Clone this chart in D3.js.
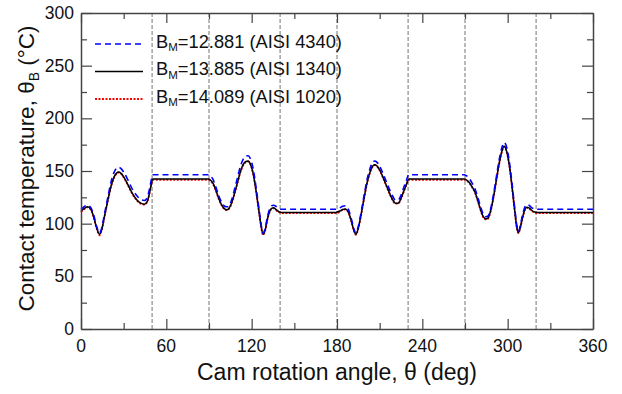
<!DOCTYPE html>
<html>
<head>
<meta charset="utf-8">
<script src="https://cdn.jsdelivr.net/npm/d3@7"></script>
<style>
  body { margin: 0; background: #fff; }
  svg { font-family: "Liberation Sans", Arial, sans-serif; }
</style>
</head>
<body>
<div id="chart"></div>
<script>
// cam rotation angle (deg) shared by all three series
var angle = [
  0, 2, 4.5, 7, 9, 11, 13, 14.5, 16.5, 19, 21, 23, 25, 26.5, 28, 30, 33, 36, 39, 42, 44.5, 46.5, 48, 49.5, 50.5,
  89.5,
  91, 93, 95, 97, 99, 101, 102.5, 104, 106, 108, 110, 112, 114, 116, 117.5, 119, 121, 123, 125, 126.5, 128, 129.5, 131, 132.5, 134, 135.5, 137, 139, 141,
  179,
  180, 182, 184, 186, 188, 190, 191.8, 193.3, 195, 197, 199, 201, 203, 205, 206.5, 208, 210, 213, 216, 219, 221, 223, 225, 227, 229, 230.5,
  269.5,
  271, 273, 275, 277, 279, 281, 283, 284.5, 286, 288, 290, 292, 294, 296, 297.5, 299, 301, 303, 305, 306.5, 307.5, 309, 310.5, 312, 313.5, 315, 317, 319, 321,
  360
];

// contact temperature (degC), B_M = 12.881 (AISI 4340)
var temp4340 = [
  113.5, 116, 117.5, 115, 108, 97.5, 91, 95.5, 109, 126, 139, 148, 152.5, 153.5, 152.5, 149, 141.5, 133, 127, 123, 122, 124.5, 132, 142, 146.5,
  146.5,
  145.5, 141.5, 134, 126, 120, 116.5, 116, 117, 123, 133, 143.5, 154, 161, 164, 164.5, 162, 152.5, 135.5, 115.5, 100.5, 91, 95.5, 106, 113.5, 117, 117.5, 116.5, 114.5, 113.7,
  113.7,
  114, 115, 116.5, 117, 113.5, 105, 95.5, 91, 97.5, 111, 126.5, 141, 151.5, 158, 159.5, 158.5, 154.5, 145.5, 135.5, 126.5, 122.5, 122.5, 127, 134.5, 142, 146.5,
  146.5,
  145.5, 143, 138.5, 133, 125, 116, 108.5, 106.5, 107, 114, 127.5, 144, 160.5, 172.5, 177, 174, 160.5, 139, 114.5, 97.5, 92.5, 99, 108.5, 115.5, 118, 117.5, 115, 114, 113.7,
  113.7
];

// B_M = 13.885 (AISI 1340)
var temp1340 = [
  112, 114, 116, 113.5, 106, 96, 90, 94, 107, 123, 135, 143.5, 148, 149, 148, 144.5, 137, 129, 123, 119.5, 118.5, 121, 128, 138, 142.5,
  142.5,
  141.5, 138, 131, 123.5, 117.5, 114, 113.3, 114.5, 120, 129, 139, 149, 156, 159, 159.5, 157, 148, 132, 113, 99, 90, 94, 104, 111, 114.5, 115, 113.5, 111.5, 110.7,
  110.7,
  111, 112, 113.5, 114, 111, 103, 94, 90, 96, 109, 124, 138, 148, 154.5, 156, 155, 151, 142, 132, 123, 119.5, 119.5, 124, 131, 138, 142.5,
  142.5,
  141.5, 139, 135, 130, 122, 113, 106.5, 104.5, 105, 112, 125, 141, 157, 169, 173.4, 170, 157, 136, 112, 96, 91.5, 97, 106, 113, 115.5, 115, 112.5, 111, 110.7,
  110.7
];

// B_M = 14.089 (AISI 1020)
var temp1020 = [
  111, 113.5, 115.5, 113, 105.5, 95.5, 89, 93.5, 106.5, 122.5, 134.5, 143, 147.5, 148.5, 147.5, 144, 136.5, 128.5, 122.5, 119, 118, 120.5, 127.5, 137.5, 141.5,
  141.5,
  140.5, 137, 130.5, 123, 117, 113.5, 112.8, 114, 119.5, 128.5, 138.5, 148.5, 155.5, 158.5, 159, 156.5, 147.5, 131.5, 112.5, 98.5, 89.5, 93.5, 103.5, 110.5, 114, 114.5, 113, 111, 110,
  110,
  110, 111.5, 113, 113.5, 110.5, 102.5, 93.5, 89.5, 95.5, 108.5, 123.5, 137.5, 147.5, 154, 155.5, 154.5, 150.5, 141.5, 131.5, 122.5, 119, 119, 123.5, 130.5, 137.5, 141.5,
  141.5,
  141, 138.5, 134.5, 129.5, 121.5, 112.5, 105.5, 104, 104.5, 111.5, 124.5, 140.5, 156.5, 168.5, 173, 169.5, 156.5, 135.5, 111.5, 95.5, 91, 96.5, 105.5, 112.5, 115, 114.5, 112, 110.5, 110,
  110
];

// dwell boundaries (deg)
var phaseLines = [50, 90, 140, 180, 230, 270, 320];

var xTicks = [0, 60, 120, 180, 240, 300, 360];
var yTicks = [0, 50, 100, 150, 200, 250, 300];

var seriesLabels = [
  { bm: "12.881", steel: "AISI 4340" },
  { bm: "13.885", steel: "AISI 1340" },
  { bm: "14.089", steel: "AISI 1020" }
];

var W = 622, H = 394;
var pL = 81, pT = 13, pR = 593, pB = 329;

var svg = d3.select( "#chart" )
  .append( "svg" )
  .attr( "width", W )
  .attr( "height", H );

var x = d3.scaleLinear().domain( [0, 360] ).range( [pL, pR] );
var y = d3.scaleLinear().domain( [0, 300] ).range( [pB, pT] );

var axisColor = "#444";

// phase boundary lines
svg.append( "g" )
  .selectAll( "line" )
  .data( phaseLines )
  .join( "line" )
  .attr( "x1", function( d ){ return x( d ); } )
  .attr( "x2", function( d ){ return x( d ); } )
  .attr( "y1", pT )
  .attr( "y2", pB )
  .attr( "stroke", "#8c8c8c" )
  .attr( "stroke-width", 1.2 )
  .attr( "stroke-dasharray", "4,2" );

// curves
var series = [
  { values: temp1020, color: "#ff0000", dash: "2,1.5", width: 1.8 },
  { values: temp1340, color: "#000000", dash: null, width: 1.5 },
  { values: temp4340, color: "#0000ff", dash: "6,4", width: 1.6 }
];

var line = d3.line()
  .x( function( d ){ return x( d[0] ); } )
  .y( function( d ){ return y( d[1] ); } )
  .curve( d3.curveMonotoneX );

series.forEach( function( s ){
  var pts = angle.map( function( a, i ){ return [a, s.values[i]]; } );
  svg.append( "path" )
    .datum( pts )
    .attr( "d", line )
    .attr( "fill", "none" )
    .attr( "stroke", s.color )
    .attr( "stroke-width", s.width )
    .attr( "stroke-dasharray", s.dash );
} );

// axes, ticks pointing inward, mirrored on all four sides
var fontTick = 17.5;

var gB = svg.append( "g" ).attr( "transform", "translate(0," + pB + ")" )
  .call( d3.axisBottom( x ).tickValues( d3.range( 0, 361, 30 ) ).tickSizeInner( -10 ).tickSizeOuter( 0 ).tickFormat( "" ) );
gB.selectAll( ".tick line" ).attr( "y2", function( d ){ return d % 60 ? -6 : -10; } );

var gT = svg.append( "g" ).attr( "transform", "translate(0," + pT + ")" )
  .call( d3.axisTop( x ).tickValues( d3.range( 0, 361, 30 ) ).tickSizeInner( -10 ).tickSizeOuter( 0 ).tickFormat( "" ) );
gT.selectAll( ".tick line" ).attr( "y2", function( d ){ return d % 60 ? 6 : 10; } );

var gL = svg.append( "g" ).attr( "transform", "translate(" + pL + ",0)" )
  .call( d3.axisLeft( y ).tickValues( d3.range( 0, 301, 25 ) ).tickSizeInner( -11 ).tickSizeOuter( 0 ).tickFormat( "" ) );
gL.selectAll( ".tick line" ).attr( "x2", function( d ){ return d % 50 ? 6 : 11; } );

var gR = svg.append( "g" ).attr( "transform", "translate(" + pR + ",0)" )
  .call( d3.axisRight( y ).tickValues( d3.range( 0, 301, 25 ) ).tickSizeInner( -11 ).tickSizeOuter( 0 ).tickFormat( "" ) );
gR.selectAll( ".tick line" ).attr( "x2", function( d ){ return d % 50 ? -6 : -11; } );

[gB, gT, gL, gR].forEach( function( g ){
  g.select( ".domain" ).attr( "stroke", axisColor ).attr( "stroke-width", 1.5 );
  g.selectAll( ".tick line" ).attr( "stroke", axisColor ).attr( "stroke-width", 1.2 );
} );

// tick labels
svg.append( "g" )
  .selectAll( "text" )
  .data( xTicks )
  .join( "text" )
  .attr( "x", function( d ){ return x( d ); } )
  .attr( "y", pB + 22.5 )
  .attr( "text-anchor", "middle" )
  .attr( "font-size", fontTick )
  .attr( "fill", "#111" )
  .text( function( d ){ return d; } );

svg.append( "g" )
  .selectAll( "text" )
  .data( yTicks )
  .join( "text" )
  .attr( "x", pL - 7 )
  .attr( "y", function( d ){ return y( d ) + 6; } )
  .attr( "text-anchor", "end" )
  .attr( "font-size", fontTick )
  .attr( "fill", "#111" )
  .text( function( d ){ return d; } );

// axis titles
svg.append( "text" )
  .attr( "x", ( pL + pR ) / 2 )
  .attr( "y", 380 )
  .attr( "text-anchor", "middle" )
  .attr( "font-size", 23 )
  .attr( "fill", "#111" )
  .text( "Cam rotation angle, θ (deg)" );

var yt = svg.append( "text" )
  .attr( "transform", "translate(34," + 168.5 + ") rotate(-90)" )
  .attr( "text-anchor", "middle" )
  .attr( "font-size", 22.5 )
  .attr( "fill", "#111" );
yt.append( "tspan" ).text( "Contact temperature, θ" );
yt.append( "tspan" ).attr( "font-size", 14 ).attr( "dy", 5 ).text( "B" );
yt.append( "tspan" ).attr( "dy", -5 ).text( " (°C)" );

// legend
var legendStyles = [series[2], series[1], series[0]];
var lg = svg.append( "g" );
legendStyles.forEach( function( s, i ){
  var ly = 44 + i * 27.5;
  lg.append( "line" )
    .attr( "x1", 95 ).attr( "x2", 143 )
    .attr( "y1", ly ).attr( "y2", ly )
    .attr( "stroke", s.color )
    .attr( "stroke-width", s.width )
    .attr( "stroke-dasharray", s.dash );
  var t = lg.append( "text" )
    .attr( "x", 156 )
    .attr( "y", ly + 3.5 )
    .attr( "font-size", 18.3 )
    .attr( "fill", "#111" );
  t.append( "tspan" ).text( "B" );
  t.append( "tspan" ).attr( "font-size", 11.5 ).attr( "dy", 3.5 ).text( "M" );
  t.append( "tspan" ).attr( "dy", -3.5 ).text( "=" + seriesLabels[i].bm + " (" + seriesLabels[i].steel + ")" );
} );
</script>
</body>
</html>
